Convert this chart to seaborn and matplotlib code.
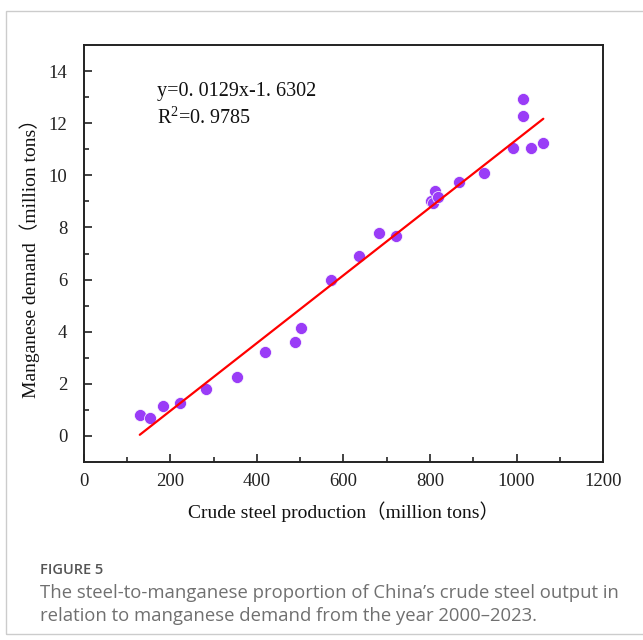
import numpy as np
import pandas as pd
import matplotlib
matplotlib.use('Agg')
import matplotlib.pyplot as plt
from matplotlib.patches import Rectangle
import seaborn as sns

# crude steel production vs manganese demand, 2000-2023
steel = [129, 152, 182, 222, 282, 353, 418, 487, 501, 570, 635, 683,
         722, 803, 808, 812, 819, 868, 925, 992, 1015, 1015, 1034, 1062]
manganese = [0.81, 0.69, 1.15, 1.27, 1.80, 2.27, 3.23, 3.60, 4.15, 6.00, 6.92, 7.77,
             7.69, 9.00, 8.92, 9.38, 9.15, 9.73, 10.10, 11.04, 12.27, 12.92, 11.04, 11.23]
eq_label = 'y=0. 0129x-1. 6302'
r2_label = 'R$^2$=0. 9785'

data = pd.DataFrame({'steel': steel, 'manganese': manganese})

sns.set_style('white')
serif = ['Liberation Serif', 'Noto Sans CJK SC']
plt.rcParams['font.family'] = serif
plt.rcParams['mathtext.fontset'] = 'custom'
plt.rcParams['mathtext.rm'] = 'Liberation Serif'

fig = plt.figure(figsize=(6.43, 6.40), dpi=100)
fig.patches.append(Rectangle((6 / 643, 0.01), 1.2, 1 - 11 / 640 - 0.01,
                             transform=fig.transFigure, fill=False,
                             edgecolor='#cccccc', linewidth=1.0))
ax = fig.add_axes([0.1306, 0.2781, 0.8072, 0.6516])

sns.regplot(data=data, x='steel', y='manganese', ci=None, ax=ax,
            scatter_kws={'s': 75, 'color': '#9a3cf7', 'edgecolor': 'white',
                         'linewidths': 0.5, 'alpha': 1, 'zorder': 2},
            line_kws={'color': '#ff0000', 'linewidth': 1.6, 'zorder': 3})

ax.set_xlim(0, 1200)
ax.set_ylim(-1, 15)
ax.set_xticks(np.arange(0, 1201, 200))
ax.set_xticks(np.arange(100, 1200, 200), minor=True)
ax.set_yticks(np.arange(0, 15, 2))
ax.set_yticks(np.arange(1, 15, 2), minor=True)
ax.tick_params(axis='both', which='major', direction='in', length=6, width=1.2,
               labelsize=13.5, colors='#222222', pad=8,
               bottom=True, left=True, top=False, right=False)
ax.tick_params(axis='y', which='major', pad=12)
ax.tick_params(axis='both', which='minor', direction='in', length=3.5, width=1.2,
               bottom=True, left=True, top=False, right=False)
for s in ax.spines.values():
    s.set_linewidth(1.4)
    s.set_color('#222222')

ax.set_xlabel('Crude steel production（million tons）', fontsize=14, labelpad=8,
              color='#111111')
ax.set_ylabel('Manganese demand（million tons）', fontsize=14, labelpad=6,
              color='#111111')

ax.text(168, 13.2, eq_label, fontsize=14.5, va='center', ha='left', color='#111111')
ax.text(168, 12.2, r2_label, fontsize=14.5, va='center', ha='left', color='#111111')

cap = ['Open Sans', 'DejaVu Sans']
fig.text(40 / 643, 1 - 570 / 640, 'FIGURE 5', fontsize=10.5, color='#555555',
         family=cap, weight='semibold', va='center', ha='left')
fig.text(40 / 643, 1 - 593 / 640,
         'The steel-to-manganese proportion of China’s crude steel output in',
         fontsize=13.3, color='#707070', family=cap, va='center', ha='left')
fig.text(40 / 643, 1 - 616 / 640,
         'relation to manganese demand from the year 2000–2023.',
         fontsize=13.3, color='#707070', family=cap, va='center', ha='left')

fig.savefig('out.png', dpi=100)
